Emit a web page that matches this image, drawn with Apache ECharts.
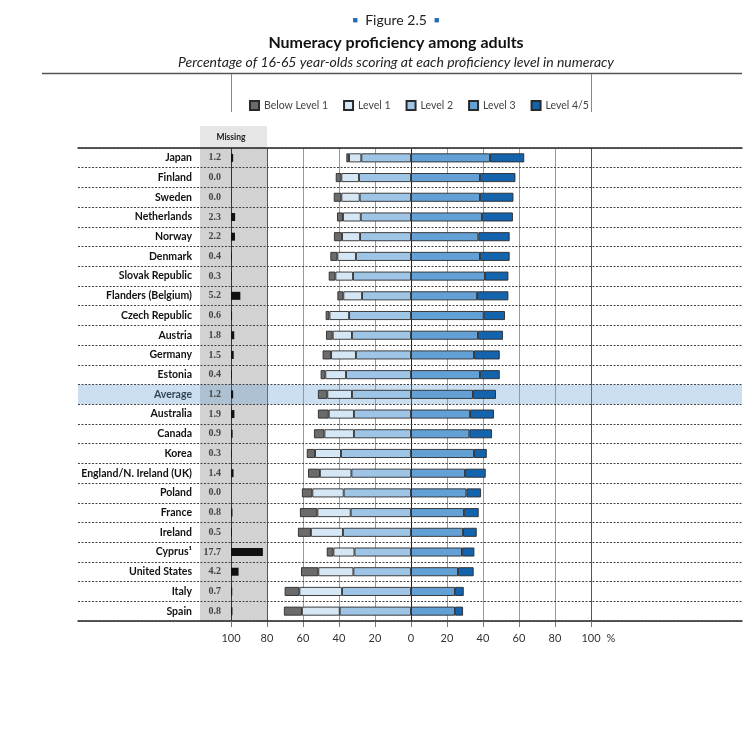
<!DOCTYPE html>
<html>
<head>
<meta charset="utf-8">
<script src="https://cdn.jsdelivr.net/npm/echarts@6/dist/echarts.min.js"></script>
<style>html,body{margin:0;padding:0;background:#fff;}#c{width:750px;height:740px;}</style>
</head>
<body>
<div id="c"></div>
<script>
// ---- data ----
const categories = ['Japan','Finland','Sweden','Netherlands','Norway','Denmark','Slovak Republic','Flanders (Belgium)','Czech Republic','Austria','Germany','Estonia','Average','Australia','Canada','Korea','England/N. Ireland (UK)','Poland','France','Ireland','Cyprus\u00b9','United States','Italy','Spain'];
const missing  = [1.2,0.0,0.0,2.3,2.2,0.4,0.3,5.2,0.6,1.8,1.5,0.4,1.2,1.9,0.9,0.3,1.4,0.0,0.8,0.5,17.7,4.2,0.7,0.8];
const belowL1  = [1.5,3.1,4.2,3.3,4.5,3.9,3.7,3.3,2.1,3.7,4.7,2.6,5.2,6.0,5.8,4.6,6.6,5.8,9.7,7.2,3.7,9.6,8.2,10.0];
const level1   = [6.8,9.8,10.2,9.9,10.0,10.3,9.8,10.4,10.9,10.7,13.8,11.5,13.7,14.0,16.4,14.4,17.5,17.4,18.5,17.8,11.7,19.5,23.7,21.0];
const level2   = [27.6,28.9,28.5,27.9,28.3,30.6,32.2,27.2,34.4,32.8,30.6,36.1,32.8,31.7,31.7,38.9,33.1,37.4,33.5,37.8,31.4,32.0,38.3,39.6];
const level3   = [43.9,38.3,38.3,39.4,37.4,38.3,41.1,36.7,40.4,37.2,35.0,38.3,34.4,32.8,32.4,35.0,30.0,30.8,29.4,28.9,28.3,26.1,24.4,24.4];
const level45  = [19.0,19.7,18.6,17.2,17.4,16.5,13.0,17.4,11.8,13.9,14.3,11.0,12.8,13.3,12.6,7.1,11.5,8.1,8.2,7.6,6.9,8.7,4.9,4.5];
const highlightRow = 'Average';
const levelNames = ['Below Level 1','Level 1','Level 2','Level 3','Level 4/5'];
const axisMin = -100, axisMax = 100, axisStep = 20;

// ---- layout / style ----
const FONT = 'Lato';
const TOP = 148, H = 473;
const FRAME_L = 78, FRAME_R = 8;
const MISS_L = 200, MISS_W = 67;
const BAR_L = 231, BAR_W = 360;
const PX_PER = BAR_W / (axisMax - axisMin);
const missMin = -(BAR_L - MISS_L) / PX_PER;
const missMax = (MISS_L + MISS_W - BAR_L) / PX_PER;
const colors = ['#6b6b6b','#d5e6f5','#9fc5e6','#62a0d6','#1463ad'];
const edge = '#2a2a2a';

const highlight = categories.map(c => c === highlightRow ? 1 : null);
const neg = a => a.map(v => -v);

function barSeries(name, data, color) {
  return {
    name, type: 'bar', stack: 'lvl', xAxisIndex: 3, yAxisIndex: 2,
    data, barWidth: 9,
    itemStyle: { color, borderColor: edge, borderWidth: 0.9 },
    silent: true
  };
}

const splitColors = [];
for (let v = axisMin; v <= axisMax; v += axisStep) {
  splitColors.push(v === 0 ? '#222' : (v === axisMin ? '#333' : (v === -80 || v === axisMax ? '#555' : '#9a9a9a')));
}

const chart = echarts.init(document.getElementById('c'), null, { renderer: 'canvas' });
const option = {
  animation: false,
  textStyle: { fontFamily: FONT },
  title: [
    { text: '{sq|\u25A0}  Figure 2.5  {sq|\u25A0}', left: 391, textAlign: 'center', top: 8,
      textStyle: { fontFamily: FONT, fontSize: 14, fontWeight: 'normal', color: '#222',
        rich: { sq: { fontSize: 9, color: '#1f6db3', fontFamily: FONT } } } },
    { text: 'Numeracy proficiency among adults', left: 391, textAlign: 'center', top: 30,
      textStyle: { fontFamily: FONT, fontSize: 16, fontWeight: 'bold', color: '#111' } },
    { text: 'Percentage of 16-65 year-olds scoring at each proficiency level in numeracy', left: 391, textAlign: 'center', top: 50,
      textStyle: { fontFamily: FONT, fontSize: 14, fontWeight: 'normal', fontStyle: 'italic', color: '#222' } }
  ],
  legend: {
    top: 100, left: 249, padding: 0, itemWidth: 9, itemHeight: 9, itemGap: 15,
    icon: 'rect', data: levelNames, selectedMode: false,
    textStyle: { fontFamily: FONT, fontSize: 10.5, color: '#444' }
  },
  grid: [
    { left: FRAME_L, right: FRAME_R, top: TOP, height: H },
    { left: MISS_L, width: MISS_W, top: TOP, height: H, show: true, backgroundColor: '#d2d2d2', borderWidth: 0 },
    { left: BAR_L, width: BAR_W, top: TOP, height: H }
  ],
  xAxis: [
    { gridIndex: 0, type: 'value', min: 0, max: 1, position: 'top',
      axisLine: { show: true, lineStyle: { color: '#222', width: 1.5 } },
      axisTick: { show: false }, axisLabel: { show: false }, splitLine: { show: false } },
    { gridIndex: 0, type: 'value', min: 0, max: 1, position: 'bottom',
      axisLine: { show: true, lineStyle: { color: '#222', width: 1.5 } },
      axisTick: { show: false }, axisLabel: { show: false }, splitLine: { show: false } },
    { gridIndex: 1, type: 'value', min: missMin, max: missMax, show: false },
    { gridIndex: 2, type: 'value', min: axisMin, max: axisMax, interval: axisStep, position: 'bottom',
      axisLine: { show: false },
      axisTick: { show: true, length: 6, lineStyle: { color: '#777' } },
      axisLabel: { formatter: v => String(Math.abs(v)), margin: 12, color: '#333', fontSize: 11, fontFamily: FONT },
      splitLine: { show: true, lineStyle: { color: splitColors, width: 1 } },
      name: '%', nameLocation: 'end', nameGap: 13,
      nameTextStyle: { fontFamily: FONT, fontSize: 11, color: '#333', verticalAlign: 'top', padding: [12, 0, 0, 0] } }
  ],
  yAxis: [
    { gridIndex: 0, type: 'category', data: categories, inverse: true, z: 3,
      axisLine: { show: false }, axisTick: { show: false }, axisLabel: { show: false },
      splitLine: { show: true, interval: 0, lineStyle: { color: '#444', type: [2, 1.5], width: 1 } } },
    { gridIndex: 1, type: 'category', data: categories, inverse: true,
      axisLine: { show: false }, axisTick: { show: false },
      axisLabel: { interval: 0, margin: 8, fontFamily: FONT, fontWeight: 'bold', fontSize: 10.5, color: '#111' },
      splitLine: { show: false } },
    { gridIndex: 2, type: 'category', data: categories, inverse: true, show: false }
  ],
  graphic: [
    { type: 'line', shape: { x1: 42, y1: 73.5, x2: 742, y2: 73.5 }, style: { stroke: '#555', lineWidth: 1.5 }, silent: true },
    { type: 'line', shape: { x1: BAR_L + 0.5, y1: 74, x2: BAR_L + 0.5, y2: 112 }, style: { stroke: '#888', lineWidth: 1 }, silent: true },
    { type: 'line', shape: { x1: BAR_L + BAR_W + 0.5, y1: 74, x2: BAR_L + BAR_W + 0.5, y2: 112 }, style: { stroke: '#888', lineWidth: 1 }, silent: true },
    { type: 'rect', shape: { x: MISS_L, y: 126, width: MISS_W, height: TOP - 126 }, style: { fill: '#e6e6e6' }, silent: true, z: -1 },
    { type: 'text', x: BAR_L, y: 137, style: { text: 'Missing', fontFamily: FONT, fontSize: 8.5, fontWeight: 'bold', fill: '#222', align: 'center', verticalAlign: 'middle' }, silent: true }
  ],
  series: [
    { name: 'rowHighlight', type: 'bar', xAxisIndex: 0, yAxisIndex: 0, data: highlight, barWidth: '100%',
      itemStyle: { color: 'rgba(105,160,212,0.34)' }, silent: true, z: 1, legendHoverLink: false },
    { name: 'Missing', type: 'bar', xAxisIndex: 2, yAxisIndex: 1, data: missing, barWidth: 8,
      itemStyle: { color: '#111' }, silent: true,
      label: { show: true, position: 'left', distance: 10, formatter: p => p.value.toFixed(1),
        fontFamily: 'Liberation Serif', fontWeight: 'bold', fontSize: 10, color: '#444' } },
    barSeries('Level 2', neg(level2), colors[2]),
    barSeries('Level 1', neg(level1), colors[1]),
    barSeries('Below Level 1', neg(belowL1), colors[0]),
    barSeries('Level 3', level3, colors[3]),
    barSeries('Level 4/5', level45, colors[4])
  ]
};
chart.setOption(option);
</script>
</body>
</html>
